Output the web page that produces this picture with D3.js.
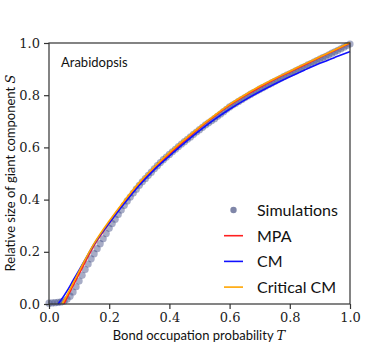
<!DOCTYPE html>
<html>
<head>
<meta charset="utf-8">
<script src="https://cdn.jsdelivr.net/npm/d3@7"></script>
<style>
  body { margin: 0; background: #fff; }
  .tick text { font-family: "DejaVu Serif", serif; font-size: 13px; fill: #222; }
  .lab { font-family: "Lato", "DejaVu Sans", sans-serif; fill: #111; }
</style>
</head>
<body>
<svg id="chart" width="390" height="358"></svg>
<script>
  // simulations, T in steps of 0.01
  var simT = d3.range(0, 101).map(function (i) { return i / 100; });
  var simS = [0.003, 0.004, 0.005, 0.006, 0.008, 0.011, 0.018, 0.03, 0.046, 0.066, 0.088,
    0.11, 0.132, 0.153, 0.173, 0.193, 0.212, 0.231, 0.25, 0.27, 0.29,
    0.308, 0.325, 0.343, 0.36, 0.378, 0.395, 0.41, 0.425, 0.44, 0.455,
    0.468, 0.48, 0.493, 0.505, 0.518, 0.53, 0.542, 0.553, 0.563, 0.573,
    0.583, 0.593, 0.603, 0.613, 0.622, 0.631, 0.64, 0.65, 0.659, 0.668,
    0.677, 0.686, 0.694, 0.702, 0.71, 0.719, 0.728, 0.737, 0.746, 0.755,
    0.762, 0.769, 0.776, 0.783, 0.79, 0.797, 0.804, 0.81, 0.816, 0.823,
    0.829, 0.835, 0.841, 0.847, 0.853, 0.859, 0.865, 0.871, 0.877, 0.882,
    0.888, 0.893, 0.899, 0.905, 0.91, 0.916, 0.921, 0.927, 0.933, 0.938,
    0.944, 0.949, 0.955, 0.961, 0.966, 0.972, 0.978, 0.984, 0.99, 0.996];

  var mpaT = [0.05, 0.06, 0.08, 0.10, 0.12, 0.15, 0.2, 0.25, 0.3, 0.35, 0.4, 0.45, 0.5, 0.55, 0.6, 0.65, 0.7, 0.75, 0.8, 0.85, 0.9, 0.95, 1.0];
  var mpaS = [0, 0.025, 0.07, 0.115, 0.16, 0.225, 0.31, 0.39, 0.46, 0.52, 0.575, 0.625, 0.675, 0.72, 0.762, 0.798, 0.83, 0.861, 0.889, 0.917, 0.945, 0.972, 1.0];

  var cmT = [0.03, 0.04, 0.06, 0.08, 0.10, 0.12, 0.15, 0.2, 0.25, 0.3, 0.35, 0.4, 0.45, 0.5, 0.55, 0.6, 0.65, 0.7, 0.75, 0.8, 0.85, 0.9, 0.95, 1.0];
  var cmS = [0, 0.015, 0.05, 0.09, 0.13, 0.17, 0.23, 0.31, 0.385, 0.455, 0.515, 0.567, 0.617, 0.664, 0.707, 0.746, 0.781, 0.813, 0.843, 0.871, 0.897, 0.922, 0.945, 0.967];

  var critT = [0.044, 0.06, 0.08, 0.10, 0.12, 0.15, 0.2, 0.25, 0.3, 0.35, 0.4, 0.45, 0.5, 0.55, 0.6, 0.65, 0.7, 0.75, 0.8, 0.85, 0.9, 0.95, 1.0];
  var critS = [0, 0.035, 0.08, 0.125, 0.17, 0.232, 0.318, 0.395, 0.465, 0.525, 0.58, 0.63, 0.678, 0.723, 0.765, 0.801, 0.834, 0.864, 0.892, 0.92, 0.947, 0.974, 1.002];

  var ticks = [0, 0.2, 0.4, 0.6, 0.8, 1.0];

  var svg = d3.select('#chart');
  var x = d3.scaleLinear().domain([0, 1]).range([49, 350]);
  var y = d3.scaleLinear().domain([0, 1]).range([304, 43]);

  // sims
  svg.append('g').selectAll('circle').data(simT).enter().append('circle')
    .attr('cx', function (d) { return x(d); })
    .attr('cy', function (d, i) { return y(simS[i]); })
    .attr('r', 3.6)
    .style('fill', '#3c4880')
    .style('opacity', 0.45);

  function curve(ts, ss, col) {
    var line = d3.line().curve(d3.curveMonotoneX)
      .x(function (d) { return x(d); })
      .y(function (d, i) { return y(ss[i]); });
    svg.append('path').datum(ts).attr('d', line)
      .style('fill', 'none').style('stroke', col).style('stroke-width', 1.6);
  }
  curve(mpaT, mpaS, '#ff2020');
  curve(cmT, cmS, '#1010ff');
  curve(critT, critS, '#ffa500');

  // frame
  svg.append('rect').attr('x', 49).attr('y', 43).attr('width', 301).attr('height', 261)
    .style('fill', 'none').style('stroke', '#333').style('stroke-width', 1.2);

  var xAxis = svg.append('g').attr('transform', 'translate(0,304)')
    .call(d3.axisBottom(x).tickValues(ticks).tickFormat(d3.format('.1f')).tickSize(5).tickPadding(4));
  var yAxis = svg.append('g').attr('transform', 'translate(49,0)')
    .call(d3.axisLeft(y).tickValues(ticks).tickFormat(d3.format('.1f')).tickSize(5).tickPadding(4));
  [xAxis, yAxis].forEach(function (a) {
    a.select('.domain').remove();
    a.selectAll('.tick line').style('stroke', '#333').style('stroke-width', 1.2);
  });

  // axis labels
  var xl = svg.append('text').attr('class', 'lab').attr('x', 199).attr('y', 340)
    .attr('text-anchor', 'middle').style('font-size', '13px');
  xl.append('tspan').text('Bond occupation probability ');
  xl.append('tspan').text('T').style('font-family', '"DejaVu Serif", serif').style('font-style', 'italic');

  var yl = svg.append('text').attr('class', 'lab')
    .attr('transform', 'translate(15,173) rotate(-90)')
    .attr('text-anchor', 'middle').style('font-size', '13px');
  yl.append('tspan').text('Relative size of giant component ');
  yl.append('tspan').text('S').style('font-family', '"DejaVu Serif", serif').style('font-style', 'italic');

  svg.append('text').attr('class', 'lab').attr('x', 61).attr('y', 67)
    .style('font-size', '13px').text('Arabidopsis');

  // legend
  var legNames = ['Simulations', 'MPA', 'CM', 'Critical CM'];
  var legCols = ['#7f86a8', '#ff2020', '#1010ff', '#ffa500'];
  var leg = svg.append('g').selectAll('g').data(legNames).enter().append('g')
    .attr('transform', function (d, i) { return 'translate(224,' + (210 + i * 25.7) + ')'; });
  leg.each(function (d, i) {
    var g = d3.select(this);
    if (i === 0) {
      g.append('circle').attr('cx', 9.5).attr('cy', 0).attr('r', 3.2)
        .style('fill', legCols[i]);
    } else {
      g.append('line').attr('x1', 0).attr('x2', 19).attr('y1', 0).attr('y2', 0)
        .style('stroke', legCols[i]).style('stroke-width', 1.6);
    }
    g.append('text').attr('class', 'lab').attr('x', 33).attr('y', 6)
      .style('font-size', '16px').text(d);
  });
</script>
</body>
</html>
